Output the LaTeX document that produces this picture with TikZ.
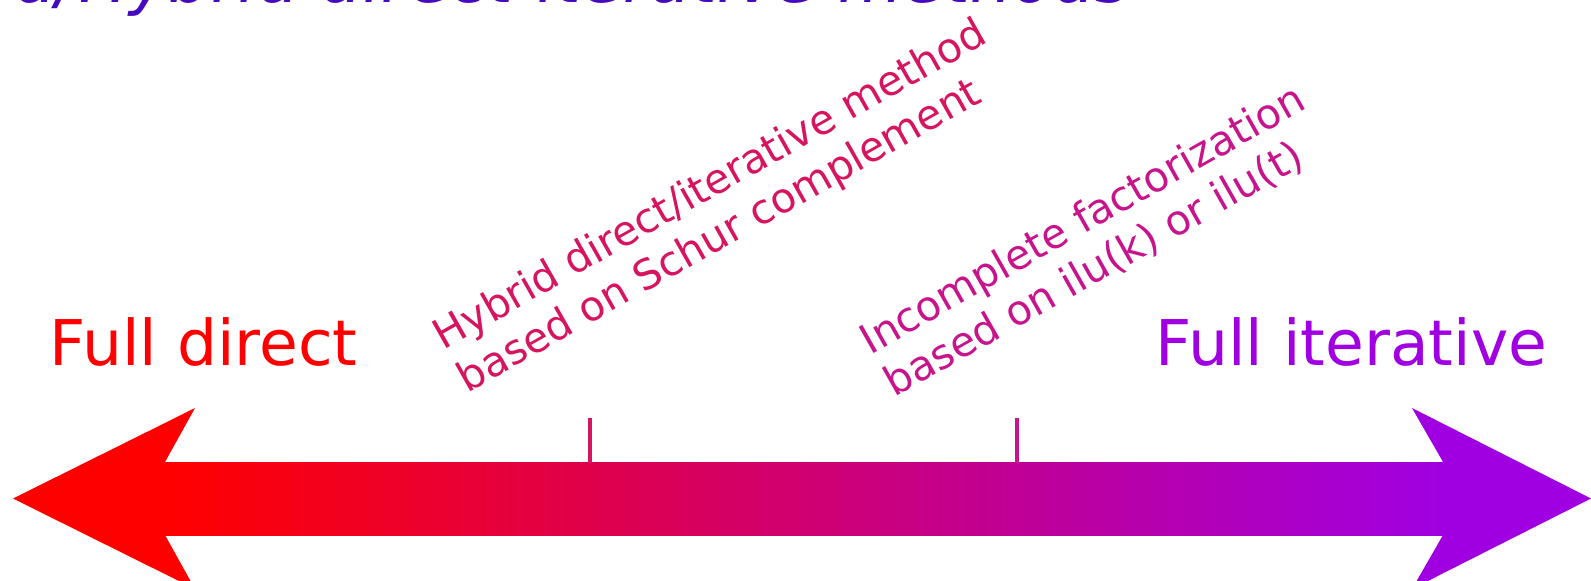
\documentclass[tikz,border=0pt]{standalone}
\usepackage{fontspec}
\setmainfont{DejaVu Sans}
\usetikzlibrary{positioning}

\definecolor{directred}{RGB}{255,0,0}
\definecolor{iterpurple}{RGB}{160,0,225}
\definecolor{hybridcol}{RGB}{215,20,95}
\definecolor{ilucol}{RGB}{200,20,140}
\definecolor{titlecol}{RGB}{70,10,190}

\begin{document}
\begin{tikzpicture}[x=0.02cm,y=-0.02cm,
    bigtext/.style={font=\fontsize{35.9}{43}\selectfont, inner sep=0pt, anchor=base west},
    slanted/.style={font=\fontsize{23.5}{27.8}\selectfont, inner sep=0pt, rotate=29.5, align=left, anchor=south west}]
      \useasboundingbox (0,0) rectangle (1591,581);
      \clip (0,0) rectangle (1591,581);
      % title, cut off at the top
      \node[anchor=base west, inner sep=0pt, text=titlecol, font=\fontsize{38}{44}\selectfont\itshape] (title) at (14,3) {d/Hybrid direct-iterative methods};
      % the double arrow
      \shade[left color=directred, right color=iterpurple] (165,462) rectangle (1443,535);
      \fill[directred] (13,498.5) -- (195,408) -- (165,462) -- (165,535) -- (195,589) -- cycle;
      \fill[iterpurple] (1591,498.5) -- (1412,408) -- (1443,462) -- (1443,535) -- (1412,589) -- cycle;
      % ticks
      \foreach \x/\c/\n in {590/hybridcol/tone, 1017/ilucol/ttwo} {
        \coordinate (\n) at (\x,463);
        \draw[\c, line width=2.3pt] (\n) -- ++(0,-45);
      }
      \node[bigtext, text=directred] (fulldirect) at (49,365) {Full direct};
      \node[bigtext, text=iterpurple] (fulliter) at (1155,365) {Full iterative};
      \node[slanted, text=hybridcol] (hybrid) at (472,401) {Hybrid direct/iterative method\\based on Schur complement};
      \node[slanted, text=ilucol] (ilu) at (897,403) {Incomplete factorization\\based on ilu(k) or ilu(t)};
    \end{tikzpicture}
\end{document}
